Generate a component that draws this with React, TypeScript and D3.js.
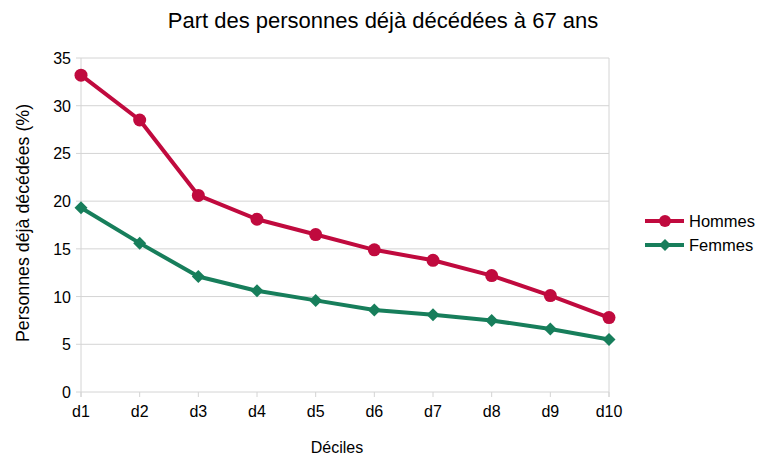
import React from 'react';
import * as d3 from 'd3';

const deciles = ['d1', 'd2', 'd3', 'd4', 'd5', 'd6', 'd7', 'd8', 'd9', 'd10'];
const hommes = [33.2, 28.5, 20.6, 18.1, 16.5, 14.9, 13.8, 12.2, 10.1, 7.8];
const femmes = [19.3, 15.6, 12.1, 10.6, 9.6, 8.6, 8.1, 7.5, 6.6, 5.5];
const yTicks = [0, 5, 10, 15, 20, 25, 30, 35];

const width = 770;
const height = 466;
const margin = { top: 58, right: 161, bottom: 74, left: 81 };

const x = d3.scalePoint<string>()
  .domain(deciles)
  .range([margin.left, width - margin.right]);

const y = d3.scaleLinear()
  .domain([0, 35])
  .range([height - margin.bottom, margin.top]);

const red = '#c00a3e';
const green = '#177e5b';
const font = '"Liberation Sans", Arial, sans-serif';

const line = d3.line<number>()
  .x((_, i) => x(deciles[i]) as number)
  .y(d => y(d));

const diamond = (cx: number, cy: number, r: number) =>
  `M${cx},${cy - r}L${cx + r},${cy}L${cx},${cy + r}L${cx - r},${cy}Z`;

export default function App() {
  const x0 = margin.left;
  const x1 = width - margin.right;
  const y0 = height - margin.bottom;
  return (
    <svg width={width} height={height} style={{ position: 'absolute', left: 0, top: 0, fontFamily: font }}>
      <rect width={width} height={height} fill="#fff" />
      <text x={383} y={28} textAnchor="middle" fontSize={22} fill="#000">
        Part des personnes déjà décédées à 67 ans
      </text>
      {yTicks.map(t => (
        <g key={t}>
          <line x1={x0 - 5} x2={x1} y1={y(t)} y2={y(t)} stroke="#d4d4d4" strokeWidth={1} />
          <text x={x0 - 10} y={y(t) + 6} textAnchor="end" fontSize={16} fill="#000">{t}</text>
        </g>
      ))}
      <line x1={x0} x2={x0} y1={margin.top} y2={y0 + 5} stroke="#d4d4d4" />
      <line x1={x1} x2={x1} y1={margin.top} y2={y0 + 5} stroke="#d4d4d4" />
      {deciles.map(d => (
        <g key={d}>
          <line x1={x(d)} x2={x(d)} y1={y0} y2={y0 + 5} stroke="#d4d4d4" />
          <text x={x(d)} y={y0 + 25} textAnchor="middle" fontSize={16} fill="#000">{d}</text>
        </g>
      ))}
      <text x={337} y={452.5} textAnchor="middle" fontSize={16} fill="#000">Déciles</text>
      <text transform={`translate(28.5,223) rotate(-90)`} textAnchor="middle" fontSize={17.8} fill="#000">
        Personnes déjà décédées (%)
      </text>

      <path d={line(femmes) || ''} fill="none" stroke={green} strokeWidth={4} strokeLinejoin="round" />
      {femmes.map((v, i) => (
        <path key={i} d={diamond(x(deciles[i]) as number, y(v), 6.5)} fill={green} />
      ))}
      <path d={line(hommes) || ''} fill="none" stroke={red} strokeWidth={4} strokeLinejoin="round" />
      {hommes.map((v, i) => (
        <circle key={i} cx={x(deciles[i]) as number} cy={y(v)} r={6.5} fill={red} />
      ))}

      <g>
        <line x1={645} x2={684} y1={221} y2={221} stroke={red} strokeWidth={4} />
        <circle cx={665} cy={221} r={6} fill={red} />
        <text x={689} y={227} fontSize={16.5} fill="#000">Hommes</text>
        <line x1={645} x2={684} y1={245} y2={245} stroke={green} strokeWidth={4} />
        <path d={diamond(665, 245, 6)} fill={green} />
        <text x={689} y={251} fontSize={16.5} fill="#000">Femmes</text>
      </g>
    </svg>
  );
}
